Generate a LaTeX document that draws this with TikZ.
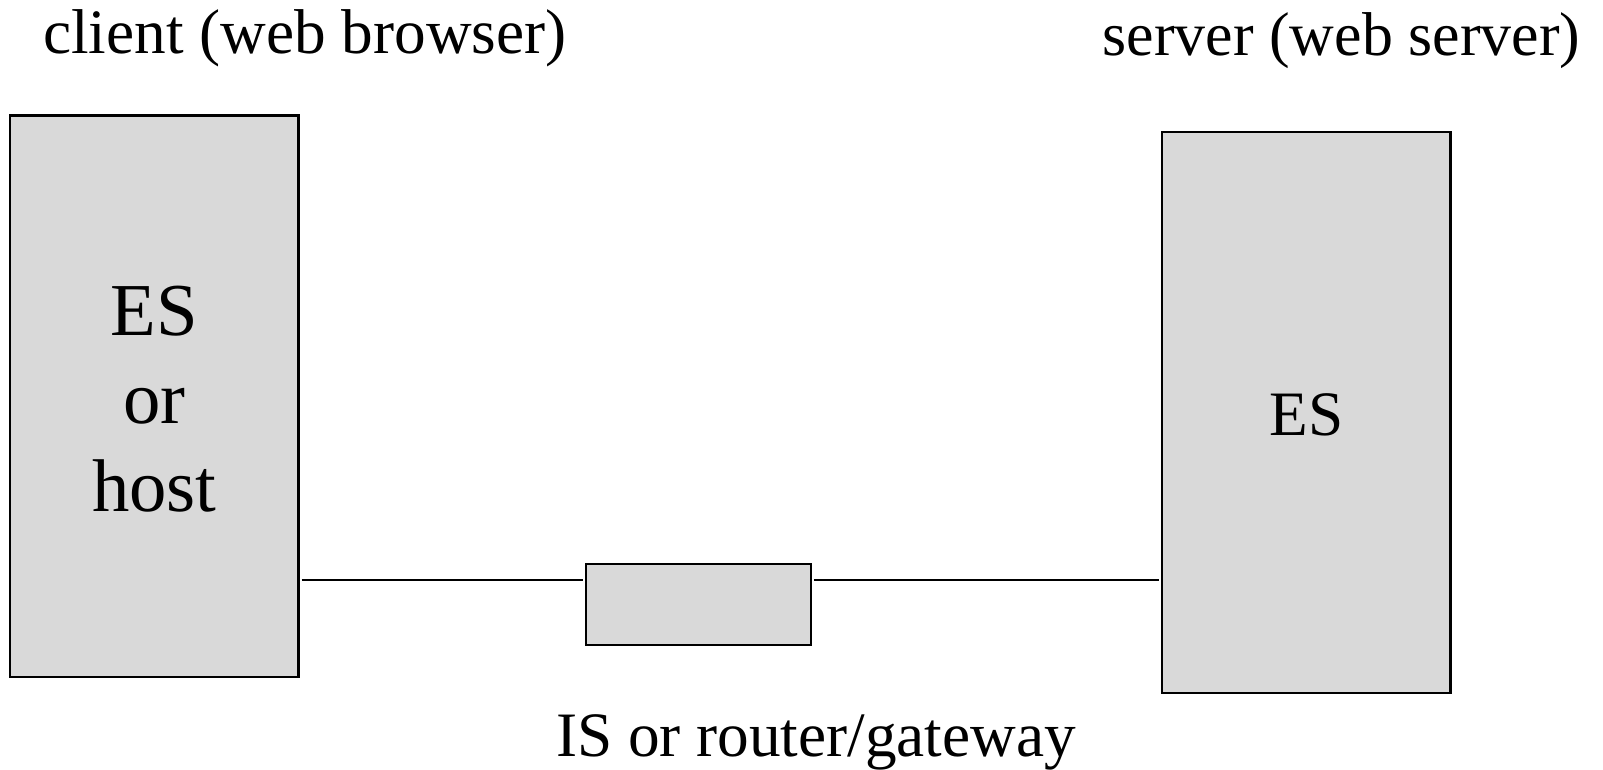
\documentclass[tikz,border=0pt]{standalone}
\usepackage{fontspec}
\setmainfont{Liberation Serif}
\usepackage{tikz}
\usetikzlibrary{calc,positioning}
\definecolor{boxgray}{RGB}{217,217,217}
\tikzset{
	esbox/.style={draw,fill=boxgray,line width=1.3pt,inner sep=0pt,minimum width=5.766cm,minimum height=11.226cm,align=center,font=\fontsize{42.5}{50}\selectfont},
	isbox/.style={draw,fill=boxgray,line width=1.3pt,inner sep=0pt,minimum width=4.494cm,minimum height=1.614cm},
	link/.style={line width=1.1pt,shorten <=0.04cm,shorten >=0.04cm},
	caption/.style={anchor=base,font=\fontsize{36}{43}\selectfont}
}

\begin{document}
\begin{tikzpicture}
	\useasboundingbox (0,0) rectangle (32.06,15.38);
	% end systems
	\node[esbox,text height=4.622cm,text depth=0pt] (client) at (3.087,7.457) {ES\\or\\host};
	\node[esbox,font=\fontsize{36}{43}\selectfont,text height=0.934cm,text depth=0pt] (server) at (26.129,7.133) {ES};
	% intermediate system
	\node[isbox] (is) at (13.967,3.287) {};
	\coordinate (wire) at (0,3.774);
	\draw[link] (client.east |- wire) -- (is.west |- wire);
	\draw[link] (is.east |- wire) -- (server.west |- wire);
	\node[caption] (clientlbl) at (6.1,14.3) {client (web browser)};
	\node[caption,font=\fontsize{35.2}{42}\selectfont] (serverlbl) at (26.83,14.26) {server (web server)};
	\node[caption] (islbl) at (16.32,0.26) {IS or router/gateway};
\end{tikzpicture}
\end{document}
